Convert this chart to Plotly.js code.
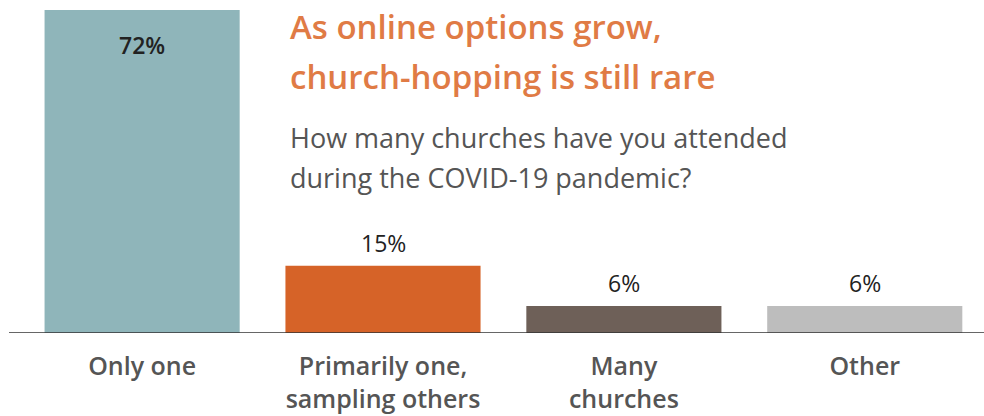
<!DOCTYPE html>
<html>
<head>
<meta charset="utf-8">
<script src="https://cdn.plot.ly/plotly-3.0.1.min.js"></script>
<style>html,body{margin:0;padding:0;background:#fff;}#chart{width:984px;height:416px;}</style>
</head>
<body>
<div id="chart"></div>
<script>
// Data
const categories = ["Only one", "Primarily one,<br>sampling others", "Many<br>churches", "Other"];
const values = [72, 15, 6, 6];
const valueLabels = ["72%", "15%", "6%", "6%"];
const barColors = ["#8FB5BA", "#D66328", "#6E6058", "#BDBDBD"];
const titleLines = ["As online options grow,", "church-hopping is still rare"];
const subtitleLines = ["How many churches have you attended", "during the COVID-19 pandemic?"];

const W = 984, H = 416;
const mT = 10, mB = 83;
const plotH = H - mT - mB;
function py(pix) { return (H - mB - pix) / plotH; }

const FONT = "Open Sans, sans-serif";

const annotations = [];
// value labels
values.forEach((v, i) => {
  annotations.push({
    x: i, y: v, xref: 'x', yref: 'y',
    text: valueLabels[i], showarrow: false,
    yanchor: 'middle', yshift: i === 0 ? -35 : 23,
    font: {family: FONT, size: 23, color: '#222', weight: i === 0 ? 600 : 400}
  });
});
// title lines
const titleY = [26, 77];
titleLines.forEach((t, i) => {
  annotations.push({
    x: 288 / W, y: py(titleY[i]), xref: 'paper', yref: 'paper',
    xanchor: 'left', yanchor: 'middle', text: t, showarrow: false,
    font: {family: FONT, size: 33, color: '#E07B45', weight: 600}
  });
});
const subY = [137, 177];
subtitleLines.forEach((t, i) => {
  annotations.push({
    x: 288 / W, y: py(subY[i]), xref: 'paper', yref: 'paper',
    xanchor: 'left', yanchor: 'middle', text: t, showarrow: false,
    font: {family: FONT, size: 27, color: '#555555', weight: 400}
  });
});

const trace = {
  type: 'bar', x: [0, 1, 2, 3], y: values,
  marker: {color: barColors, line: {width: 0}},
  hoverinfo: 'skip'
};

const layout = {
  width: W, height: H,
  margin: {l: 0, r: 0, t: mT, b: mB, pad: 0},
  paper_bgcolor: '#fff', plot_bgcolor: '#fff',
  showlegend: false,
  bargap: 0.19,
  xaxis: {
    range: [-0.59, 3.495], tickmode: 'array', tickvals: [0, 1, 2, 3], ticktext: categories,
    showgrid: false, zeroline: false, showline: false, ticks: '',
    ticklabelstandoff: 16,
    tickfont: {family: FONT, size: 25, color: '#555555', weight: 600},
    fixedrange: true
  },
  yaxis: {range: [0, 72], visible: false, fixedrange: true},
  shapes: [{
    type: 'line', xref: 'paper', yref: 'y', x0: 9 / W, x1: 1, y0: 0, y1: 0,
    line: {color: '#333333', width: 1.5}, layer: 'above'
  }],
  annotations: annotations
};

Plotly.newPlot('chart', [trace], layout, {displayModeBar: false, staticPlot: true});
</script>
</body>
</html>
